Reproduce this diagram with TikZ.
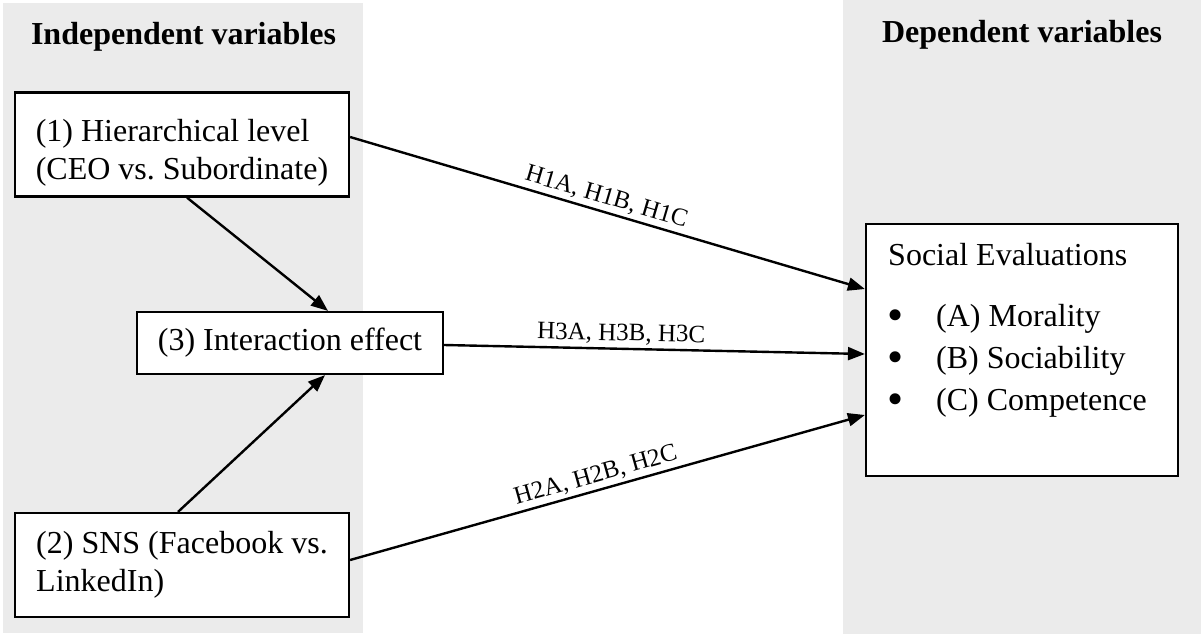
\documentclass[tikz,border=0pt]{standalone}
\usepackage{fontspec}
\setmainfont{Liberation Serif}
\usetikzlibrary{arrows.meta}
\definecolor{panelgray}{HTML}{EBEBEB}
\frenchspacing
\newcommand{\bigbul}{\makebox[48pt][l]{\hspace{-1pt}\raisebox{-4.5pt}{\fontsize{46}{42}\selectfont\textbullet}}}
\tikzset{
  panel/.style={fill=panelgray, draw=none},
  varbox/.style={draw=black, line width=2.2pt, fill=white, rectangle, inner sep=0pt,
    font=\fontsize{32}{38}\selectfont},
  heading/.style={font=\fontsize{32}{38}\selectfont\bfseries, inner sep=0pt, anchor=base},
  boxtext/.style={font=\fontsize{32}{42}\selectfont, inner sep=0pt, align=left, anchor=north west},
  arr/.style={line width=2.4pt, -{Triangle[length=17pt,width=13pt]}},
  hlabel/.style={font=\fontsize{25}{30}\selectfont, sloped, above, inner sep=3pt},
}
\begin{document}
\begin{tikzpicture}[x=1pt,y=-1pt]
\useasboundingbox (0,0) rectangle (1201,634);
\fill[panel] (3,3) rectangle (363,633);
\fill[panel] (843,0) rectangle (1201,634);

\node[heading] (hind) at (183.5,45) {Independent variables};
\node[heading] (hdep) at (1022,42) {Dependent variables};

\node[varbox, minimum width=334pt, minimum height=104pt, align=left]
  (b1) at (182,144.5) {\rule{0pt}{38pt}(1) Hierarchical level\\(CEO vs. Subordinate)};
\node[varbox, minimum width=306pt, minimum height=62pt]
  (b3) at (290,343) {(3) Interaction effect};
\node[varbox, minimum width=334pt, minimum height=104pt, align=left]
  (b2) at (182,565) {(2) SNS (Facebook vs.\\LinkedIn)};

\node[varbox, minimum width=312pt, minimum height=252pt] (se) at (1022,350) {};
\node[boxtext] (setext) at (888,243) {Social Evaluations\\[19pt]
  \bigbul(A) Morality\\
  \bigbul(B) Sociability\\
  \bigbul(C) Competence};

\draw[arr] ([xshift=5pt]b1.south) -- ([xshift=38pt]b3.north);
\draw[arr] ([xshift=-4pt]b2.north) -- ([xshift=35pt]b3.south);
\draw[arr] ([yshift=7.5pt]b1.east) -- node[hlabel, pos=0.49] {H1A, H1B, H1C} ([yshift=61pt]se.west);
\draw[arr] ([yshift=-2pt]b3.east) -- node[hlabel, pos=0.42] {H3A, H3B, H3C} ([yshift=-4pt]se.west);
\draw[arr] ([yshift=5pt]b2.east) -- node[hlabel, pos=0.485] {H2A, H2B, H2C} ([yshift=-65pt]se.west);
\end{tikzpicture}
\end{document}
